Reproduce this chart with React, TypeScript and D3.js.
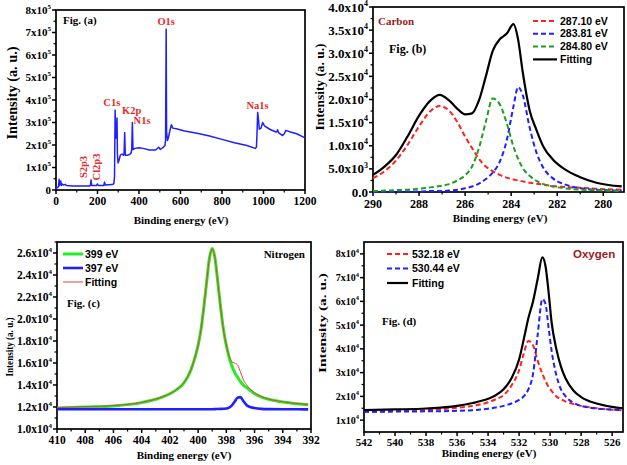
import React from 'react';
import * as d3 from 'd3';

const SERIF = '"Liberation Serif", "Times New Roman", serif';
const SANS = '"Liberation Sans", Arial, sans-serif';

// ---------- Fig (a): survey spectrum (intensity in units of 1e5) ----------
const surveyBE = [0, 3, 8, 12, 15, 17, 20, 23, 26, 30, 35, 45, 50, 80, 120, 160, 166, 169, 172, 195, 200, 204, 230, 234, 238, 270, 279, 282, 285, 287, 288, 291, 294, 296, 299, 303, 310, 318, 325, 328, 331, 334, 345, 355, 362, 365, 368, 371, 380, 400, 420, 450, 480, 492, 496, 502, 515, 525, 528, 531, 533, 537, 541, 548, 556, 563, 580, 620, 680, 740, 800, 860, 920, 960, 966, 969, 972, 976, 980, 988, 996, 1005, 1030, 1060, 1065, 1068, 1072, 1092, 1100, 1108, 1130, 1160, 1200];
const surveyI = [0.02, 0.08, 0.12, 0.15, 0.48, 0.2, 0.25, 0.4, 0.2, 0.27, 0.22, 0.25, 0.2, 0.18, 0.18, 0.18, 0.2, 0.45, 0.2, 0.2, 0.27, 0.2, 0.2, 0.35, 0.22, 0.24, 0.28, 0.6, 3.55, 2.4, 2.3, 2.5, 3.2, 1.6, 1.2, 1.3, 1.55, 1.6, 1.55, 1.6, 2.55, 1.55, 1.55, 1.58, 1.65, 1.8, 3.0, 1.8, 1.85, 1.88, 1.85, 1.78, 1.78, 1.88, 1.9, 1.8, 1.88, 1.98, 2.2, 7.15, 2.6, 2.2, 2.3, 2.6, 2.9, 2.75, 2.72, 2.62, 2.52, 2.4, 2.25, 2.1, 1.98, 1.85, 1.9, 2.6, 3.45, 3.1, 2.7, 2.75, 3.0, 2.85, 2.7, 2.58, 2.6, 2.68, 2.55, 2.42, 2.5, 2.65, 2.58, 2.5, 2.32];
const surveyXTicks = [0, 200, 400, 600, 800, 1000, 1200];
const surveyYTicks = [0, 1, 2, 3, 4, 5, 6, 7, 8];
const surveyPeaks = ['C1s', 'K2p', 'N1s', 'O1s', 'Na1s'];

// ---------- Fig (b): carbon (intensity in units of 1e4) ----------
const carbonBE = [290, 289.5, 289, 288.5, 288, 287.5, 287.1, 286.7, 286.3, 286, 285.7, 285.4, 285.1, 284.8, 284.5, 284.2, 283.9, 283.7, 283.5, 283.2, 282.9, 282.6, 282.2, 281.7, 281, 280.3, 279.2];
const carbon287 = [0.3, 0.45, 0.68, 1.02, 1.42, 1.75, 1.86, 1.76, 1.48, 1.2, 0.95, 0.72, 0.55, 0.45, 0.37, 0.31, 0.27, 0.25, 0.23, 0.2, 0.18, 0.16, 0.13, 0.11, 0.09, 0.07, 0.05];
const carbon283 = [0.0, 0.0, 0.01, 0.01, 0.01, 0.02, 0.02, 0.03, 0.05, 0.08, 0.12, 0.18, 0.28, 0.42, 0.65, 1.1, 1.85, 2.27, 2.1, 1.4, 0.85, 0.52, 0.3, 0.17, 0.08, 0.05, 0.03];
const carbon284 = [0.02, 0.03, 0.04, 0.05, 0.07, 0.1, 0.13, 0.17, 0.26, 0.36, 0.55, 0.95, 1.52, 2.02, 1.9, 1.5, 0.98, 0.72, 0.52, 0.35, 0.24, 0.17, 0.12, 0.08, 0.05, 0.04, 0.02];
const carbonFit = [0.37, 0.55, 0.8, 1.2, 1.65, 1.98, 2.1, 1.98, 1.78, 1.68, 1.7, 1.98, 2.5, 3.05, 3.3, 3.42, 3.63, 3.3, 2.6, 1.77, 1.34, 0.98, 0.71, 0.5, 0.32, 0.2, 0.12];
const carbonXTicks = [290, 288, 286, 284, 282, 280];
const carbonYTicks = [0, 0.5, 1, 1.5, 2, 2.5, 3, 3.5, 4];
const carbonLegend = ['287.10 eV', '283.81 eV', '284.80 eV', 'Fitting'];

// ---------- Fig (c): nitrogen (intensity in units of 1e4) ----------
const nitroBE = [410, 408, 406, 404, 403, 402, 401.5, 401, 400.5, 400.2, 400, 399.8, 399.6, 399.4, 399.2, 399, 398.8, 398.6, 398.4, 398.2, 398, 397.8, 397.6, 397.4, 397.2, 397, 396.8, 396.5, 396, 395.5, 395, 394, 393, 392.2];
const nitro399 = [1.19, 1.2, 1.21, 1.24, 1.27, 1.32, 1.36, 1.42, 1.54, 1.66, 1.76, 1.9, 2.1, 2.33, 2.55, 2.64, 2.55, 2.33, 2.1, 1.9, 1.76, 1.65, 1.57, 1.51, 1.47, 1.43, 1.4, 1.37, 1.32, 1.29, 1.27, 1.245, 1.23, 1.22];
const nitro397 = [1.18, 1.18, 1.18, 1.18, 1.18, 1.18, 1.18, 1.18, 1.18, 1.18, 1.18, 1.18, 1.18, 1.18, 1.18, 1.18, 1.181, 1.182, 1.183, 1.184, 1.186, 1.195, 1.215, 1.25, 1.285, 1.29, 1.255, 1.21, 1.19, 1.183, 1.181, 1.18, 1.179, 1.178];
const nitroFit = [1.195, 1.203, 1.213, 1.242, 1.272, 1.322, 1.362, 1.422, 1.542, 1.662, 1.762, 1.902, 2.1, 2.33, 2.55, 2.64, 2.55, 2.33, 2.1, 1.9, 1.765, 1.665, 1.61, 1.6, 1.58, 1.52, 1.45, 1.39, 1.33, 1.295, 1.272, 1.247, 1.232, 1.222];
const nitroXTicks = [410, 408, 406, 404, 402, 400, 398, 396, 394, 392];
const nitroYTicks = [1.0, 1.2, 1.4, 1.6, 1.8, 2.0, 2.2, 2.4, 2.6];
const nitroLegend = ['399 eV', '397 eV', 'Fitting'];

// ---------- Fig (d): oxygen (intensity in units of 1e4) ----------
const oxyBE = [542, 540, 538, 536, 535, 534, 533.5, 533, 532.5, 532, 531.7, 531.4, 531.1, 530.8, 530.5, 530.3, 530.1, 529.9, 529.6, 529.3, 529, 528.5, 528, 527, 526, 525.3];
const oxy532 = [1.35, 1.38, 1.42, 1.52, 1.6, 1.75, 1.88, 2.05, 2.45, 3.1, 3.8, 4.33, 4.15, 3.5, 2.95, 2.65, 2.4, 2.22, 2.0, 1.88, 1.78, 1.68, 1.6, 1.5, 1.44, 1.41];
const oxy530 = [1.35, 1.36, 1.37, 1.39, 1.42, 1.48, 1.53, 1.6, 1.7, 1.85, 2.0, 2.3, 2.95, 4.6, 6.1, 5.9, 4.9, 3.9, 2.9, 2.3, 2.0, 1.73, 1.6, 1.49, 1.44, 1.42];
const oxyFit = [1.42, 1.45, 1.49, 1.6, 1.72, 1.9, 2.05, 2.3, 2.75, 3.55, 4.4, 5.3, 6.0, 6.95, 7.85, 7.5, 6.4, 5.1, 4.0, 3.25, 2.75, 2.25, 1.97, 1.7, 1.56, 1.5];
const oxyXTicks = [542, 540, 538, 536, 534, 532, 530, 528, 526];
const oxyYTicks = [1, 2, 3, 4, 5, 6, 7, 8];
const oxyLegend = ['532.18 eV', '530.44 eV', 'Fitting'];

const RED = '#ff2020';
const BLUE = '#1f1fff';
const DGREEN = '#1e9e1e';
const LGREEN = '#22ee22';
const DARKRED = '#9b1c1c';

type Scale = d3.ScaleLinear<number, number>;

function range(a: number, b: number, step: number) {
  const out: number[] = [];
  for (let v = a; v <= b + 1e-9; v += step) out.push(+v.toFixed(4));
  return out;
}

function Frame(props: {
  x: Scale; y: Scale; xMajor: number[]; xMinor: number[]; yMajor: number[]; yMinor: number[];
  xLabel: (v: number) => string; yLabel: (v: number) => [string, string];
  xFont: number; yFont: number; xDy: number; supFont: number;
}) {
  const { x, y, xMajor, xMinor, yMajor, yMinor, xLabel, yLabel, xFont, yFont, xDy, supFont } = props;
  const [x0, x1] = x.range();
  const [y0, y1] = y.range();
  return (
    <g>
      {xMinor.map((v, i) => <line key={'xm' + i} x1={x(v)} x2={x(v)} y1={y0} y2={y0 + 2.5} stroke="#000" strokeWidth={1.2} />)}
      {xMajor.map((v, i) => (
        <g key={'xM' + i}>
          <line x1={x(v)} x2={x(v)} y1={y0} y2={y0 + 4} stroke="#000" strokeWidth={1.5} />
          <text x={x(v)} y={y0 + xDy} textAnchor="middle" fontFamily={SERIF} fontWeight="bold" fontSize={xFont}>{xLabel(v)}</text>
        </g>
      ))}
      {yMinor.map((v, i) => <line key={'ym' + i} x1={x0} x2={x0 - 2.5} y1={y(v)} y2={y(v)} stroke="#000" strokeWidth={1.2} />)}
      {yMajor.map((v, i) => {
        const [b, e] = yLabel(v);
        return (
          <g key={'yM' + i}>
            <line x1={x0} x2={x0 - 4} y1={y(v)} y2={y(v)} stroke="#000" strokeWidth={1.5} />
            <text x={x0 - 5} y={y(v)} dy="0.35em" textAnchor="end" fontFamily={SERIF} fontWeight="bold" fontSize={yFont}>
              {b}
              {e ? <tspan dy={-yFont * 0.45} fontSize={supFont}>{e}</tspan> : null}
            </text>
          </g>
        );
      })}
      <rect x={x0} y={y1} width={x1 - x0} height={y0 - y1} fill="none" stroke="#000" strokeWidth={1.7} />
    </g>
  );
}

function lineOf(x: Scale, y: Scale, xs: number[], ys: number[], curve: d3.CurveFactory) {
  const pts = xs.map((v, i) => [v, ys[i]] as [number, number]);
  return d3.line<[number, number]>().x(d => x(d[0])).y(d => y(d[1])).curve(curve)(pts) || '';
}

function YTitle({ cx, cy, size, len }: { cx: number; cy: number; size: number; len: number }) {
  return (
    <text transform={`translate(${cx},${cy}) rotate(-90)`} textAnchor="middle" dy="0.35em" fontFamily={SERIF} fontWeight="bold" fontSize={size} textLength={len} lengthAdjust="spacingAndGlyphs">
      Intensity (a. u.)
    </text>
  );
}

function XTitle({ cx, y }: { cx: number; y: number }) {
  return <text x={cx} y={y} textAnchor="middle" fontFamily={SERIF} fontWeight="bold" fontSize={11}>Binding energy (eV)</text>;
}

function PanelA() {
  const x = d3.scaleLinear().domain([0, 1200]).range([56, 305]);
  const y = d3.scaleLinear().domain([0, 8]).range([190, 10]);
  const path = lineOf(x, y, surveyBE, surveyI, d3.curveLinear);
  const peakPos: Record<string, [number, number, string]> = {
    C1s: [228, 3.75, 'start'], K2p: [318, 3.4, 'start'], N1s: [374, 2.95, 'start'], O1s: [531, 7.35, 'middle'], Na1s: [918, 3.6, 'start'],
  };
  return (
    <g>
      <Frame x={x} y={y} xMajor={surveyXTicks} xMinor={range(100, 1100, 200)} yMajor={surveyYTicks} yMinor={range(0.5, 7.5, 1)}
        xLabel={v => String(v)} yLabel={v => (v === 0 ? ['0', ''] : [`${v}x10`, '5'])} xFont={11.5} yFont={11} xDy={15} supFont={7} />
      <path d={path} fill="none" stroke={BLUE} strokeWidth={1.5} strokeLinejoin="round" />
      <text x={63} y={24} fontFamily={SERIF} fontWeight="bold" fontSize={11}>Fig. (a)</text>
      {surveyPeaks.map(p => {
        const [bx, by, anchor] = peakPos[p];
        return <text key={p} x={x(bx)} y={y(by)} textAnchor={anchor as any} fontFamily={SERIF} fontWeight="bold" fontSize={10.5} fill="#e62a2a">{p}</text>;
      })}
      <text transform={`translate(${x(150)},${167}) rotate(-90)`} textAnchor="middle" fontFamily={SERIF} fontWeight="bold" fontSize={10.5} fill="#e62a2a">S2p3</text>
      <text transform={`translate(${x(212)},${167}) rotate(-90)`} textAnchor="middle" fontFamily={SERIF} fontWeight="bold" fontSize={10.5} fill="#e62a2a">Cl2p3</text>
      <YTitle cx={12} cy={93} size={15} len={93} />
      <XTitle cx={181} y={224} />
    </g>
  );
}

function PanelB() {
  const x = d3.scaleLinear().domain([290, 279.1]).range([373, 624]);
  const y = d3.scaleLinear().domain([0, 4]).range([192, 7]);
  const curve = d3.curveMonotoneX;
  const series = [
    { ys: carbon287, color: RED, dash: '5,3', w: 2 },
    { ys: carbon283, color: BLUE, dash: '5,3', w: 2 },
    { ys: carbon284, color: DGREEN, dash: '5,3', w: 2 },
    { ys: carbonFit, color: '#000', dash: '', w: 2.2 },
  ];
  const yLab = (v: number): [string, string] => {
    if (v === 0) return ['0.0', ''];
    if (v === 0.5) return ['5.0x10', '3'];
    return [`${v.toFixed(1)}x10`, '4'];
  };
  return (
    <g>
      <Frame x={x} y={y} xMajor={carbonXTicks} xMinor={range(279, 289, 2).filter(v => v > 279.1)} yMajor={carbonYTicks} yMinor={range(0.25, 3.75, 0.5)}
        xLabel={v => String(v)} yLabel={yLab} xFont={12} yFont={13} xDy={16} supFont={8} />
      {series.map((s, i) => (
        <path key={i} d={lineOf(x, y, carbonBE, s.ys, curve)} fill="none" stroke={s.color} strokeWidth={s.w} strokeDasharray={s.dash || undefined} />
      ))}
      {carbonLegend.map((t, i) => {
        const yy = 21 + i * 12.8;
        const s = series[i];
        return (
          <g key={t}>
            <line x1={533} x2={557} y1={yy} y2={yy} stroke={s.color} strokeWidth={s.w} strokeDasharray={s.dash || undefined} />
            <text x={560} y={yy} dy="0.35em" fontFamily={SANS} fontWeight="bold" fontSize={10.5}>{t}</text>
          </g>
        );
      })}
      <text x={378} y={25} fontFamily={SERIF} fontWeight="bold" fontSize={11} fill={DARKRED}>Carbon</text>
      <text x={389} y={53} fontFamily={SERIF} fontWeight="bold" fontSize={12}>Fig. (b)</text>
      <YTitle cx={320} cy={87} size={12} len={87} />
      <XTitle cx={500} y={222} />
    </g>
  );
}

function PanelC() {
  const x = d3.scaleLinear().domain([410, 392]).range([57, 311]);
  const y = d3.scaleLinear().domain([1.0, 2.7]).range([429, 242]);
  const curve = d3.curveMonotoneX;
  const series = [
    { ys: nitro399, color: LGREEN, w: 3 },
    { ys: nitro397, color: BLUE, w: 2.6 },
    { ys: nitroFit, color: '#e04040', w: 1 },
  ];
  return (
    <g>
      <Frame x={x} y={y} xMajor={nitroXTicks} xMinor={range(393, 409, 2)} yMajor={nitroYTicks} yMinor={range(1.1, 2.7, 0.2)}
        xLabel={v => String(v)} yLabel={v => [`${v.toFixed(1)}x10`, '4']} xFont={11.5} yFont={11.5} xDy={15} supFont={7} />
      {series.map((s, i) => (
        <path key={i} d={lineOf(x, y, nitroBE, s.ys, curve)} fill="none" stroke={s.color} strokeWidth={s.w} />
      ))}
      {nitroLegend.map((t, i) => {
        const yy = 254 + i * 14;
        const s = series[i];
        return (
          <g key={t}>
            <line x1={63} x2={83} y1={yy} y2={yy} stroke={s.color} strokeWidth={s.w} />
            <text x={85} y={yy} dy="0.35em" fontFamily={SANS} fontWeight="bold" fontSize={10.5}>{t}</text>
          </g>
        );
      })}
      <text x={305} y={258} textAnchor="end" fontFamily={SERIF} fontWeight="bold" fontSize={11}>Nitrogen</text>
      <text x={67} y={307} fontFamily={SERIF} fontWeight="bold" fontSize={11}>Fig. (c)</text>
      <YTitle cx={9} cy={347} size={10} len={59} />
      <XTitle cx={184} y={459} />
    </g>
  );
}

function PanelD() {
  const x = d3.scaleLinear().domain([542, 525.3]).range([364, 623]);
  const y = d3.scaleLinear().domain([0.5, 8.5]).range([432, 242]);
  const curve = d3.curveMonotoneX;
  const series = [
    { ys: oxy532, color: RED, dash: '5,3', w: 2 },
    { ys: oxy530, color: BLUE, dash: '5,3', w: 2 },
    { ys: oxyFit, color: '#000', dash: '', w: 2.2 },
  ];
  return (
    <g>
      <Frame x={x} y={y} xMajor={oxyXTicks} xMinor={range(527, 541, 2)} yMajor={oxyYTicks} yMinor={range(1.5, 7.5, 1)}
        xLabel={v => String(v)} yLabel={v => [`${v}x10`, '4']} xFont={11} yFont={10} xDy={13.5} supFont={6.5} />
      {series.map((s, i) => (
        <path key={i} d={lineOf(x, y, oxyBE, s.ys, curve)} fill="none" stroke={s.color} strokeWidth={s.w} strokeDasharray={s.dash || undefined} />
      ))}
      {oxyLegend.map((t, i) => {
        const yy = 254 + i * 14.5;
        const s = series[i];
        return (
          <g key={t}>
            <line x1={387} x2={408} y1={yy} y2={yy} stroke={s.color} strokeWidth={s.w} strokeDasharray={s.dash || undefined} />
            <text x={412} y={yy} dy="0.35em" fontFamily={SANS} fontWeight="bold" fontSize={10.5}>{t}</text>
          </g>
        );
      })}
      <text x={573} y={258} fontFamily={SANS} fontWeight="bold" fontSize={11.5} fill={DARKRED}>Oxygen</text>
      <text x={382} y={325} fontFamily={SERIF} fontWeight="bold" fontSize={11}>Fig. (d)</text>
      <YTitle cx={322} cy={323} size={11} len={100} />
      <XTitle cx={489} y={457} />
    </g>
  );
}

export default function App() {
  return (
    <svg width={627} height={465} style={{ position: 'absolute', left: 0, top: 0, background: '#fff' }}>
      <rect width={627} height={465} fill="#fff" />
      <PanelA />
      <PanelB />
      <PanelC />
      <PanelD />
    </svg>
  );
}
